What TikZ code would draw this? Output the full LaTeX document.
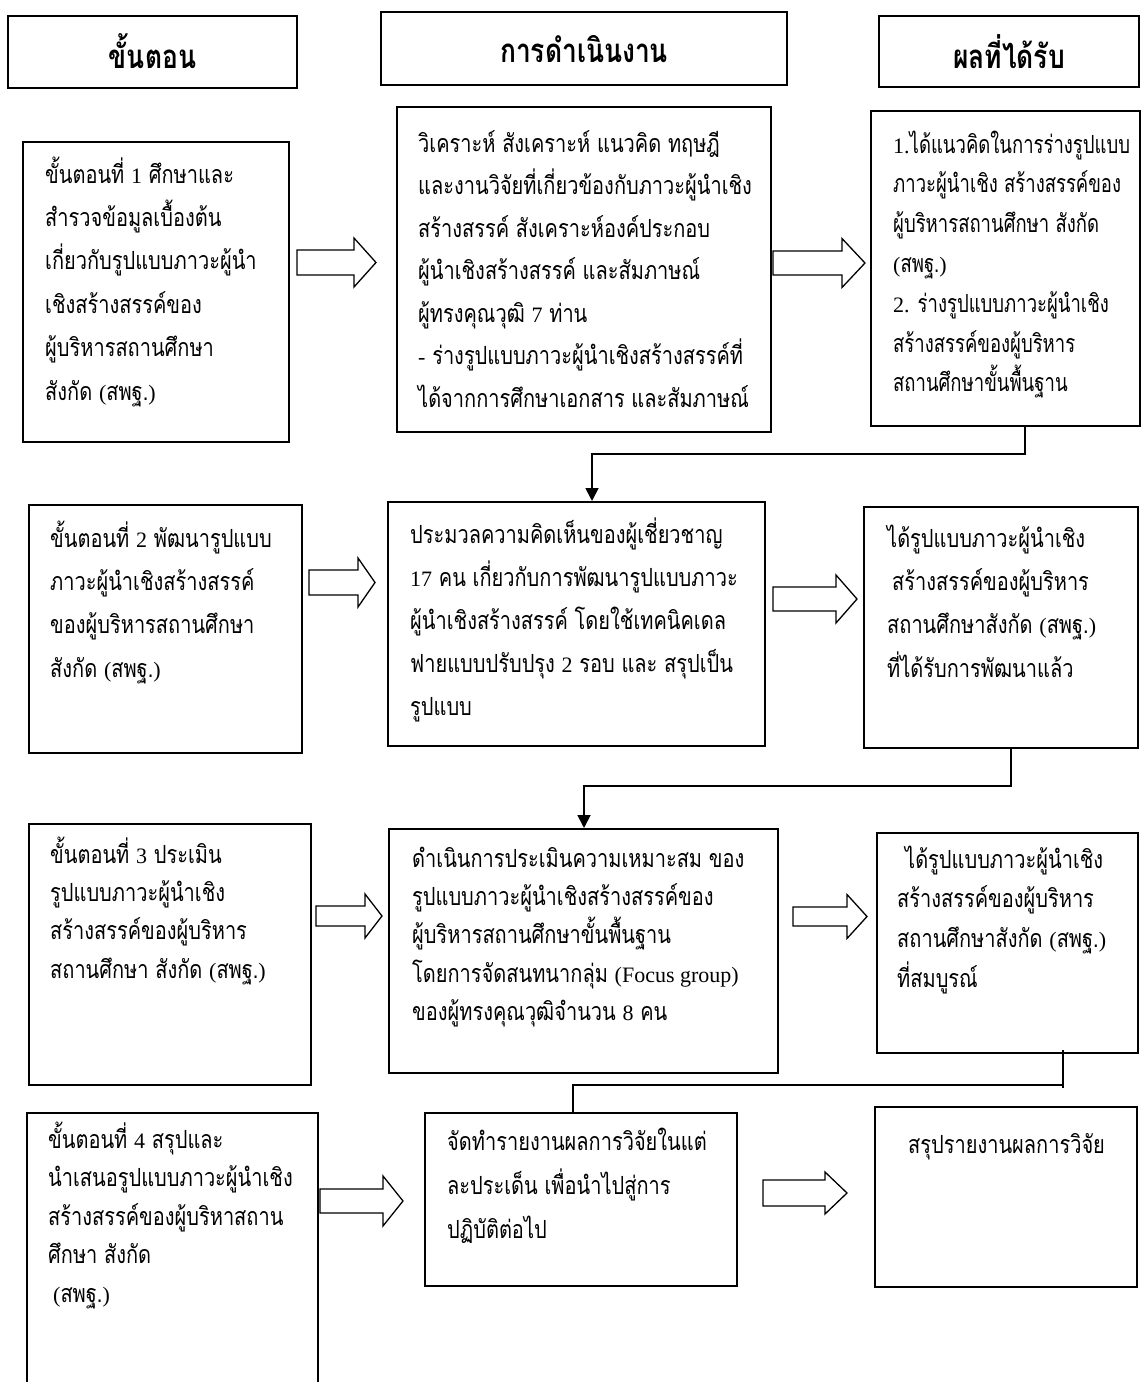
\documentclass[tikz,border=0pt]{standalone}
\usepackage{fontspec}
\newfontfamily\thai[Script=Thai,FakeStretch=0.8]{Loma}
\newfontfamily\thain[Script=Thai,FakeStretch=0.74]{Loma}
\newfontfamily\lat{Liberation Serif}
\usetikzlibrary{fit,arrows.meta}
\newcommand\la[1]{{\lat\fontsize{22}{22}\selectfont #1}}
\newcommand\barr[6]{\draw[barrow] (#1,#4-#5) -- (#2,#4-#5) -- (#2,#4-#6) -- (#3,#4) -- (#2,#4+#6) -- (#2,#4+#5) -- (#1,#4+#5) -- cycle;}
\tikzset{
  box/.style={draw, line width=2pt, inner sep=0pt},
  txt/.style={anchor=north west, inner sep=0pt, align=left},
  headtxt/.style={anchor=base, inner sep=0pt, font=\thai\bfseries\fontsize{33}{36}\selectfont},
  barrow/.style={draw, line width=1.3pt, fill=white},
  link/.style={draw, line width=1.8pt},
}
\newcommand\bt[1]{\thai\fontsize{25}{#1}\selectfont}
\newcommand\btn[1]{\thain\fontsize{25}{#1}\selectfont}
\begin{document}
\begin{tikzpicture}[x=1pt,y=-1pt]
\clip (0,0) rectangle (1141,1382);
\useasboundingbox (0,0) rectangle (1141,1382);
% headers
\node[box, fit={(8,16) (297,88)}] (H1) {};
\node[box, fit={(381,12) (787,85)}] (H2) {};
\node[box, fit={(879,16) (1139,87)}] (H3) {};
\node[headtxt] (H1t) at (152.5,68) {ขั้นตอน};
\node[headtxt] (H2t) at (584,62) {การดำเนินงาน};
\node[headtxt] (H3t) at (1009,68) {ผลที่ได้รับ};
% row 1
\node[box, fit={(23,142) (289,442)}] (L1) {};
\node[box, fit={(397,107) (771,432)}] (M1) {};
\node[box, fit={(871,111) (1140,426)}] (R1) {};
\node[txt, font=\bt{43.4}] (L1t) at (45,183-30.4) {\strut ขั้นตอนที่ \la{1} ศึกษาและ\\สำรวจข้อมูลเบื้องต้น\\เกี่ยวกับรูปแบบภาวะผู้นำ\\เชิงสร้างสรรค์ของ\\ผู้บริหารสถานศึกษา\\สังกัด \la{(}สพฐ.\la{)}};
\node[txt, font=\bt{42.5}] (M1t) at (418,152-29.75) {\strut วิเคราะห์ สังเคราะห์ แนวคิด ทฤษฎี\\และงานวิจัยที่เกี่ยวข้องกับภาวะผู้นำเชิง\\สร้างสรรค์ สังเคราะห์องค์ประกอบ\\ผู้นำเชิงสร้างสรรค์ และสัมภาษณ์\\ผู้ทรงคุณวุฒิ \la{7} ท่าน\\\la{-} ร่างรูปแบบภาวะผู้นำเชิงสร้างสรรค์ที่\\ได้จากการศึกษาเอกสาร และสัมภาษณ์};
\node[txt, font=\btn{39.8}] (R1t) at (893,153-27.9) {\strut\la{1.}ได้แนวคิดในการร่างรูปแบบ\\ภาวะผู้นำเชิง สร้างสรรค์ของ\\ผู้บริหารสถานศึกษา สังกัด\\\la{(}สพฐ.\la{)}\\\la{2.}\hspace{8pt}ร่างรูปแบบภาวะผู้นำเชิง\\สร้างสรรค์ของผู้บริหาร\\สถานศึกษาขั้นพื้นฐาน};
\barr{297}{354}{376}{262.5}{12.5}{24.5}
\barr{773}{842}{865}{263}{12}{24.5}
% row 2
\node[box, fit={(29,505) (302,753)}] (L2) {};
\node[box, fit={(388,502) (765,746)}] (M2) {};
\node[box, fit={(864,507) (1138,748)}] (R2) {};
\node[txt, font=\bt{43.3}] (L2t) at (50,547-30.3) {\strut ขั้นตอนที่ \la{2} พัฒนารูปแบบ\\ภาวะผู้นำเชิงสร้างสรรค์\\ของผู้บริหารสถานศึกษา\\สังกัด \la{(}สพฐ.\la{)}};
\node[txt, font=\bt{43}] (M2t) at (410,543-30.1) {\strut ประมวลความคิดเห็นของผู้เชี่ยวชาญ\\\la{17} คน เกี่ยวกับการพัฒนารูปแบบภาวะ\\ผู้นำเชิงสร้างสรรค์ โดยใช้เทคนิคเดล\\ฟายแบบปรับปรุง \la{2} รอบ และ สรุปเป็น\\รูปแบบ};
\node[txt, font=\bt{43.3}] (R2t) at (887,547-30.3) {\strut ได้รูปแบบภาวะผู้นำเชิง\\\hspace*{5pt}สร้างสรรค์ของผู้บริหาร\\สถานศึกษาสังกัด \la{(}สพฐ.\la{)}\\ที่ได้รับการพัฒนาแล้ว};
\barr{309}{358}{375}{582.5}{12.5}{24.5}
\barr{773}{836}{857}{599}{12}{24}
% row 3
\node[box, fit={(29,824) (311,1085)}] (L3) {};
\node[box, fit={(389,829) (778,1073)}] (M3) {};
\node[box, fit={(877,833) (1138,1053)}] (R3) {};
\node[txt, font=\bt{38.3}] (L3t) at (50,863-26.8) {\strut ขั้นตอนที่ \la{3} ประเมิน\\รูปแบบภาวะผู้นำเชิง\\สร้างสรรค์ของผู้บริหาร\\สถานศึกษา สังกัด \la{(}สพฐ.\la{)}};
\node[txt, font=\bt{38.3}] (M3t) at (412,867-26.8) {\strut ดำเนินการประเมินความเหมาะสม ของ\\รูปแบบภาวะผู้นำเชิงสร้างสรรค์ของ\\ผู้บริหารสถานศึกษาขั้นพื้นฐาน\\โดยการจัดสนทนากลุ่ม \la{(Focus group)}\\ของผู้ทรงคุณวุฒิจำนวน \la{8} คน};
\node[txt, font=\bt{39.7}] (R3t) at (897,868-27.8) {\strut\hspace*{8pt}ได้รูปแบบภาวะผู้นำเชิง\\สร้างสรรค์ของผู้บริหาร\\สถานศึกษาสังกัด \la{(}สพฐ.\la{)}\\ที่สมบูรณ์};
\barr{316}{365}{382}{916}{10}{22}
\barr{793}{847}{867}{916.5}{9.5}{22}
% row 4
\node[box, fit={(27,1113) (318,1400)}] (L4) {};
\node[box, fit={(425,1113) (737,1286)}] (M4) {};
\node[box, fit={(875,1107) (1137,1287)}] (R4) {};
\node[txt, font=\bt{38.5}] (L4t) at (48,1148-27) {\strut ขั้นตอนที่ \la{4} สรุปและ\\นำเสนอรูปแบบภาวะผู้นำเชิง\\สร้างสรรค์ของผู้บริหาสถาน\\ศึกษา สังกัด\\\hspace*{5pt}\la{(}สพฐ.\la{)}};
\node[txt, font=\bt{44}] (M4t) at (447,1150-30.8) {\strut จัดทำรายงานผลการวิจัยในแต่\\ละประเด็น เพื่อนำไปสู่การ\\ปฏิบัติต่อไป};
\node[txt, font=\bt{40}] (R4t) at (908,1153-28) {\strut สรุปรายงานผลการวิจัย};
\barr{320}{383}{403}{1201}{12}{25}
\barr{763}{825}{847}{1193}{13}{21}
% connectors
\draw[link, -{Triangle[length=13pt,width=13pt]}] ([xshift=155pt]R1.south west) -- ++(0,27) -| ([xshift=205pt]M2.north west);
\draw[link, -{Triangle[length=13pt,width=13pt]}] ([xshift=148pt]R2.south west) -- ++(0,37) -| ([xshift=196pt]M3.north west);
\draw[link] ([xshift=187pt,yshift=4pt]R3.south west) -- ++(0,38);
\draw[link] ([xshift=187pt]R3.south west) ++(0,31) -| ([xshift=149pt]M4.north west);
\end{tikzpicture}
\end{document}
